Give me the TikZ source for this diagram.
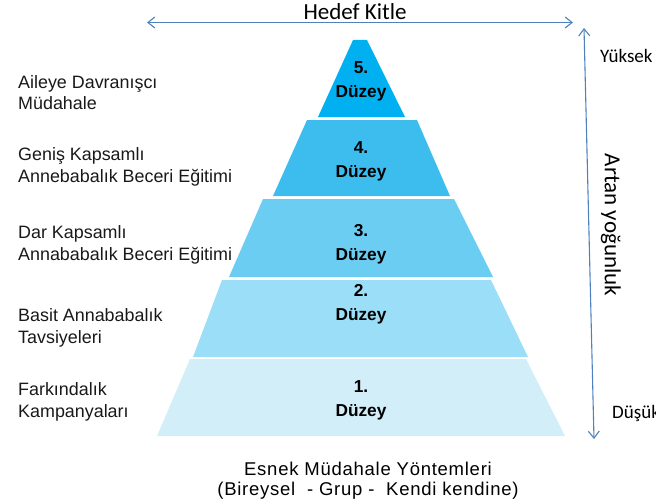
\documentclass[tikz,border=0pt]{standalone}
\usepackage{fontspec}
\setmainfont{Liberation Sans}
\newfontfamily\calfont{Carlito}
\newfontfamily\widefont[LetterSpace=4]{Liberation Sans}
\usepackage{tikz}
\usetikzlibrary{arrows.meta,positioning}

\definecolor{lvlfive}{HTML}{00B0F0}
\definecolor{lvlfour}{HTML}{3DBDEE}
\definecolor{lvlthree}{HTML}{6CCDF2}
\definecolor{lvltwo}{HTML}{9BDEF7}
\definecolor{lvlone}{HTML}{D2EEF9}
\definecolor{arrowblue}{HTML}{4F81BD}

\tikzset{
  lbl/.style={anchor=base west, align=left, inner sep=0pt,
              font=\fontsize{17.9}{21.5}\selectfont, text=black!90},
  duz/.style={anchor=base, align=center, inner sep=0pt,
              font=\fontsize{17.3}{24}\selectfont\bfseries},
  cal/.style={inner sep=0pt, font=\calfont\fontsize{23}{27}\selectfont},
  blu/.style={draw=arrowblue, line width=1.1pt,
              {Straight Barb[length=7pt,width=11pt]}-{Straight Barb[length=7pt,width=11pt]}}
}

\begin{document}
\begin{tikzpicture}[x=1pt,y=-1pt]
  \useasboundingbox (0,0) rectangle (656,503);

  % pyramid levels
  \fill[lvlfive]  (353,40)  -- (367,40)  -- (405,117) -- (318,117) -- cycle;
  \fill[lvlfour]  (307,120) -- (417,120) -- (450,196) -- (273,196) -- cycle;
  \fill[lvlthree] (263,199) -- (454,199) -- (493,277) -- (229,277) -- cycle;
  \fill[lvltwo]   (222,280) -- (491,280) -- (528,357) -- (193,357) -- cycle;
  \fill[lvlone]   (190,359) -- (526,359) -- (565,436) -- (157,436) -- cycle;

  \node[duz] (d5) at (361,97)  {5.\\Düzey};
  \node[duz] (d4) at (361,177) {4.\\Düzey};
  \node[duz] (d3) at (361,260) {3.\\Düzey};
  \node[duz] (d2) at (361,320) {2.\\Düzey};
  \node[duz] (d1) at (361,416) {1.\\Düzey};

  % left labels
  \node[lbl] (l5) at (18,110) {Aileye Davranışcı\\Müdahale};
  \node[lbl] (l4) at (18,182) {Geniş Kapsamlı\\Annebabalık Beceri Eğitimi};
  \node[lbl] (l3) at (18,260) {Dar Kapsamlı\\Annababalık Beceri Eğitimi};
  \node[lbl] (l2) at (18,343) {Basit Annababalık\\Tavsiyeleri};
  \node[lbl] (l1) at (18,417) {Farkındalık\\Kampanyaları};

  % arrows
  \coordinate (hl) at (147,22.5);
  \coordinate (hr) at (573,22.5);
  \draw[blu] (hl) -- (hr);
  \node[cal, anchor=base] (hedef) at (355,20) {Hedef Kitle};

  \coordinate (vt) at (584,28);
  \coordinate (vb) at (594,439);
  \draw[blu] (vt) -- (vb);
  \node[cal, rotate=-90] (artan) at (611,225) {Artan yoğunluk};
  \node[cal, anchor=base west, font=\calfont\fontsize{19}{22}\selectfont] (yuk) at (600,63) {Yüksek};
  \node[cal, anchor=base west, font=\calfont\fontsize{19}{22}\selectfont] (dus) at (612,418) {Düşük};

  % bottom
  \node[anchor=base, align=center, inner sep=0pt, font=\widefont\fontsize{18.5}{20}\selectfont]
    (esnek) at (368,495) {Esnek Müdahale Yöntemleri\\(Bireysel\ \ - Grup -\ \ Kendi kendine)};
\end{tikzpicture}
\end{document}
